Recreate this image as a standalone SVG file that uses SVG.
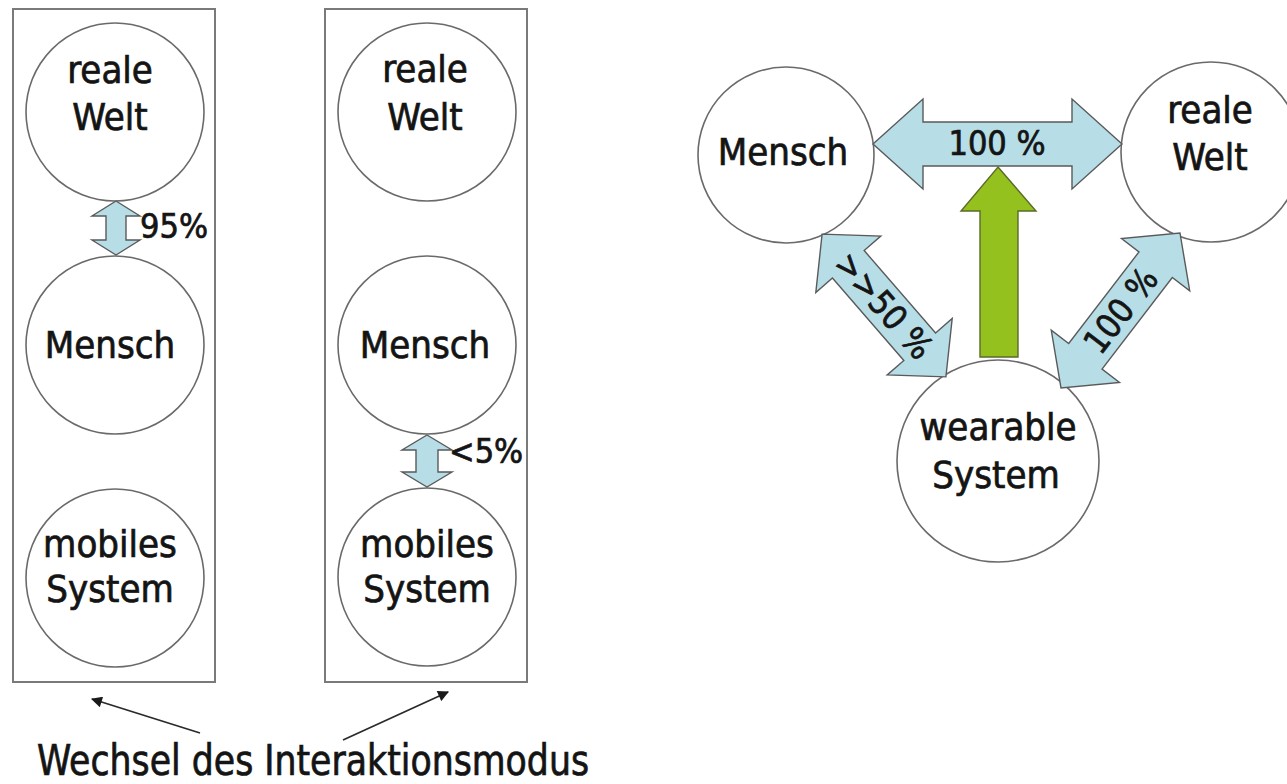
<svg xmlns="http://www.w3.org/2000/svg" width="1287" height="784" viewBox="0 0 1287 784">
  <defs>
    <style>
      .frame { fill: #ffffff; stroke: #7a7a7a; stroke-width: 2; }
      .node { fill: #ffffff; stroke: #6a6a6a; stroke-width: 1.6; }
      .lbl { font-family: 'DejaVu Sans Condensed', 'DejaVu Sans', sans-serif; font-stretch: condensed; fill: #141414; stroke: #141414; stroke-width: 0.7; text-anchor: middle; }
      .big { font-size: 38px; }
      .pct { font-size: 34px; }
      .start { text-anchor: start; }
      .flow { fill: #b7dde6; stroke: #5a5a5a; stroke-width: 1.4; stroke-linejoin: miter; }
      .push { fill: #95c11f; stroke: #5a6a2a; stroke-width: 1.4; }
      .pointer { stroke: #2a2a2a; stroke-width: 1.8; fill: none; marker-end: url(#tip); }
    </style>
    <marker id="tip" viewBox="0 0 10 10" refX="9" refY="5" markerWidth="12" markerHeight="11" orient="auto" markerUnits="userSpaceOnUse">
      <path d="M0 0 L10 5 L0 10 Z" fill="#1a1a1a"/>
    </marker>
  </defs>

  <rect width="1287" height="784" fill="#ffffff"/>

  <!-- the two interaction-mode columns -->
  <g id="column-real">
    <rect class="frame" x="13" y="9" width="202" height="673"/>
  </g>
  <g id="column-system">
    <rect class="frame" x="325" y="9" width="202" height="673"/>
  </g>

  <g id="a-reale-welt">
    <circle class="node" cx="115" cy="112" r="89"/>
    <text class="lbl big" x="110" y="83">reale</text>
    <text class="lbl big" x="110" y="130">Welt</text>
  </g>
  <g id="a-mensch">
    <circle class="node" cx="115" cy="345" r="89"/>
    <text class="lbl big" x="110" y="358">Mensch</text>
  </g>
  <g id="a-mobiles-system">
    <circle class="node" cx="115" cy="578" r="89"/>
    <text class="lbl big" x="110" y="557">mobiles</text>
    <text class="lbl big" x="110" y="602">System</text>
  </g>

  <g id="b-reale-welt">
    <circle class="node" cx="427" cy="112" r="89"/>
    <text class="lbl big" x="425" y="82">reale</text>
    <text class="lbl big" x="425" y="130">Welt</text>
  </g>
  <g id="b-mensch">
    <circle class="node" cx="427" cy="345" r="89"/>
    <text class="lbl big" x="425" y="358">Mensch</text>
  </g>
  <g id="b-mobiles-system">
    <circle class="node" cx="427" cy="577" r="89"/>
    <text class="lbl big" x="427" y="557">mobiles</text>
    <text class="lbl big" x="427" y="602">System</text>
  </g>

  <!-- triangle: human, real world, wearable -->
  <g id="c-mensch">
    <circle class="node" cx="786" cy="155" r="88"/>
    <text class="lbl big" x="783" y="165">Mensch</text>
  </g>
  <g id="c-reale-welt">
    <circle class="node" cx="1211" cy="152" r="90"/>
    <text class="lbl big" x="1210" y="123">reale</text>
    <text class="lbl big" x="1210" y="170">Welt</text>
  </g>
  <g id="c-wearable-system">
    <circle class="node" cx="998" cy="461" r="101"/>
    <text class="lbl big" x="998" y="440">wearable</text>
    <text class="lbl big" x="996" y="488">System</text>
  </g>

  <g id="connectors">
    <!-- 95 % between real world and human -->
    <path class="flow" d="M116 201 L140 216 L126 216 L126 240 L140 240 L116 255 L92 240 L106 240 L106 216 L92 216 Z"/>
    <text class="lbl pct start" x="140" y="238">95%</text>

    <!-- < 5 % between human and mobile system -->
    <path class="flow" d="M427 435 L452 450 L438 450 L438 472 L452 472 L427 487 L402 472 L416 472 L416 450 L402 450 Z"/>
    <text class="lbl pct start" x="449" y="463">&lt;5%</text>

    <!-- human <-> real world -->
    <path class="flow" d="M873 144 L923 99 L923 122 L1072 122 L1072 99 L1122 144 L1072 189 L1072 166 L923 166 L923 189 Z"/>
    <text class="lbl pct" x="997" y="155">100 %</text>

    <!-- wearable pushes the human / real world link -->
    <path class="push" d="M998 167 L1036 211 L1018 211 L1018 357 L980 357 L980 211 L961 211 Z"/>

    <!-- human <-> wearable -->
    <g transform="translate(884 305.5) rotate(49.07)">
      <path class="flow" d="M-94.5 0 L-54.5 -43 L-54.5 -21 L54.5 -21 L54.5 -43 L94.5 0 L54.5 43 L54.5 21 L-54.5 21 L-54.5 43 Z"/>
      <text class="lbl pct" x="0" y="12">&gt;&gt;50 %</text>
    </g>

    <!-- real world <-> wearable -->
    <g transform="translate(1120.5 310.5) rotate(-52.5)">
      <path class="flow" d="M-97.7 0 L-57.7 -43 L-57.7 -21 L57.7 -21 L57.7 -43 L97.7 0 L57.7 43 L57.7 21 L-57.7 21 L-57.7 43 Z"/>
      <text class="lbl pct" x="0" y="12">100 %</text>
    </g>

    <!-- pointers from the caption to both columns -->
    <line class="pointer" x1="200" y1="733" x2="92" y2="699"/>
    <line class="pointer" x1="343" y1="740" x2="448" y2="692"/>
  </g>

  <text class="lbl" x="313" y="775" font-size="42" textLength="552" lengthAdjust="spacingAndGlyphs">Wechsel des Interaktionsmodus</text>
</svg>
